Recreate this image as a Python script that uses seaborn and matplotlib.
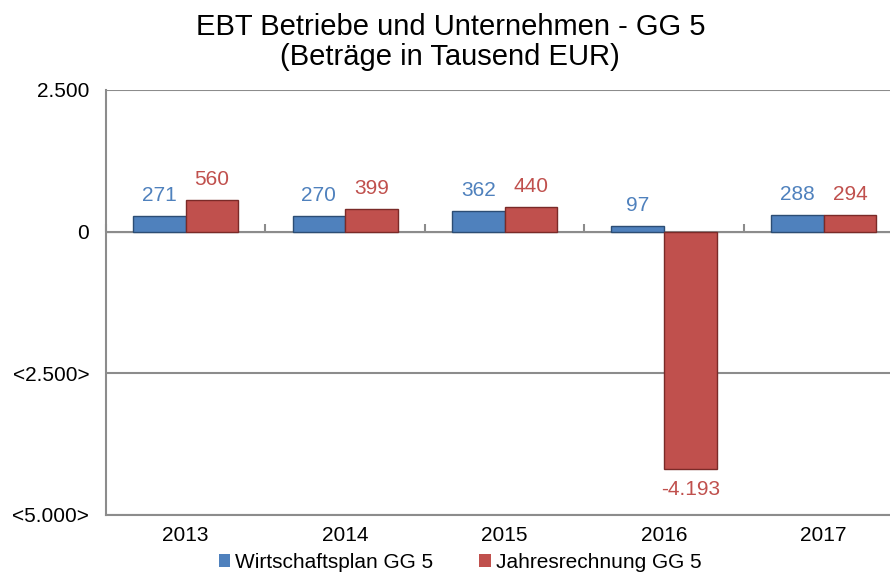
import matplotlib
matplotlib.use("Agg")
import matplotlib.pyplot as plt
import pandas as pd
import seaborn as sns

# chart values (Tausend EUR)
jahre = ["2013", "2014", "2015", "2016", "2017"]
wirtschaftsplan = [271, 270, 362, 97, 288]
jahresrechnung = [560, 399, 440, -4193, 294]
reihen = ["Wirtschaftsplan GG 5", "Jahresrechnung GG 5"]
y_ticks = [2500, 0, -2500, -5000]
y_tick_labels = ["2.500", "0", "<2.500>", "<5.000>"]

blue = "#4f81bd"
red = "#c0504d"

# long table for seaborn
data = pd.DataFrame({
    "Jahr": jahre * 2,
    "Wert": wirtschaftsplan + jahresrechnung,
    "Reihe": [reihen[0]] * len(jahre) + [reihen[1]] * len(jahre),
})

sns.set_style("white")
plt.rcParams["font.family"] = ["Liberation Sans", "DejaVu Sans"]
plt.rcParams["text.color"] = "black"

fig = plt.figure(figsize=(8.9, 5.76), dpi=100)
ax = fig.add_axes([0.119, 0.106, 0.896, 0.738])

sns.barplot(data=data, x="Jahr", y="Wert", hue="Reihe", palette=[blue, red],
            width=0.66, ax=ax, edgecolor="none", saturation=1)

# darker rims to hint at the bevelled look
for cont, rim in zip(ax.containers, ["#2c4d74", "#7a2a28"]):
    for bar in cont:
        bar.set_edgecolor(rim)
        bar.set_linewidth(1.0)

# value labels in german number format
def fmt(v):
    return f"{v:,.0f}".replace(",", ".")

for cont, col in zip(ax.containers, [blue, red]):
    ax.bar_label(cont, labels=[fmt(b.get_height()) for b in cont],
                 padding=8, color=col, fontsize=15)

ax.set_xlim(-0.5, 4.5)
ax.set_ylim(-5000, 2500)
ax.set_yticks(y_ticks)
ax.set_yticklabels(y_tick_labels, fontsize=15)
ax.set_xlabel("")
ax.set_ylabel("")
ax.tick_params(axis="x", length=0, labelsize=15, pad=8, labelcolor="black")
ax.tick_params(axis="y", length=6, width=1.5, color="#8c8c8c", direction="out",
               pad=6, labelcolor="black")

grid = "#8c8c8c"
ax.yaxis.grid(True, color=grid, linewidth=1.5)
ax.set_axisbelow(True)
for side in ["top", "right"]:
    ax.spines[side].set_visible(False)
for side in ["left", "bottom"]:
    ax.spines[side].set_color(grid)
    ax.spines[side].set_linewidth(1.5)

# category axis line at zero with boundary ticks
zero_pos = 5000 / 7500
sec = ax.secondary_xaxis(zero_pos)
sec.set_xticks([-0.5, 0.5, 1.5, 2.5, 3.5, 4.5])
sec.set_xticklabels([])
sec.tick_params(length=6, width=1.5, color=grid, direction="out")
sec.spines["bottom"].set_color(grid)
sec.spines["bottom"].set_linewidth(1.5)

# legend at the bottom
handles, labels = ax.get_legend_handles_labels()
ax.get_legend().remove()
fig.legend(handles, labels, loc="center", bbox_to_anchor=(0.517, 0.024),
           ncol=2, frameon=False, fontsize=15, handlelength=0.55,
           handleheight=0.55, handletextpad=0.25, columnspacing=2.2,
           labelcolor="black")

fig.text(0.506, 0.927, "EBT Betriebe und Unternehmen - GG 5\n(Beträge in Tausend EUR)",
         ha="center", va="center", fontsize=21, linespacing=1.1, color="black")

fig.savefig("out.png", dpi=100)
